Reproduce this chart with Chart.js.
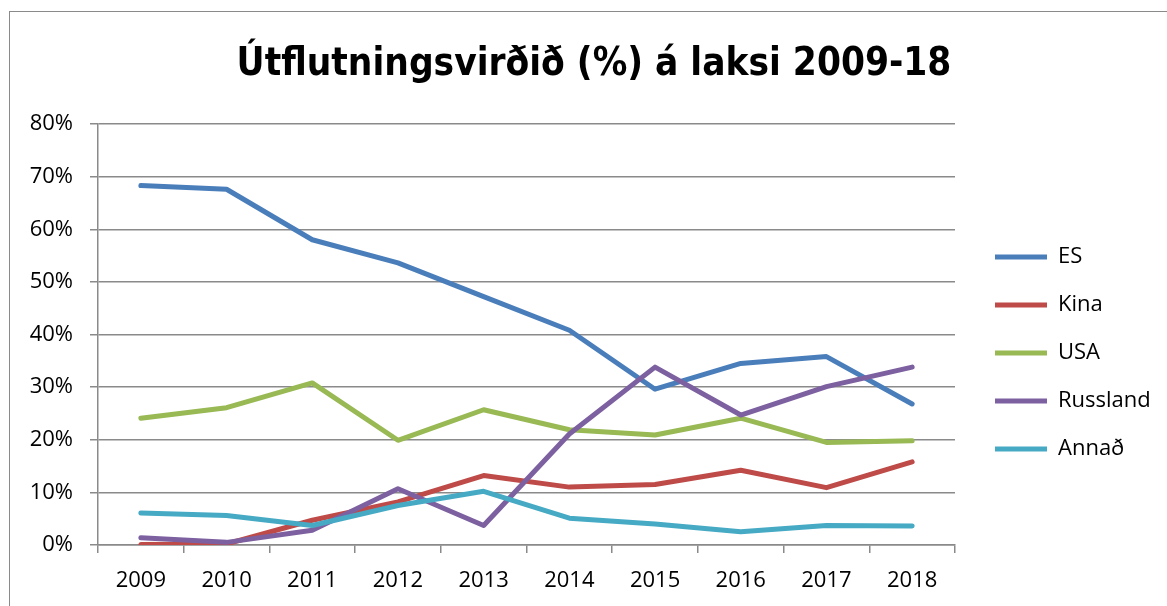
<!DOCTYPE html>
<html>
<head>
<meta charset="utf-8">
<script src="https://cdn.jsdelivr.net/npm/chart.js@4.4.1/dist/chart.umd.min.js"></script>
<style>
  html, body { margin:0; padding:0; background:#ffffff; overflow:hidden; width:1167px; height:606px; }
  #frame { position:absolute; left:9px; top:11px; width:1300px; height:700px;
           border-left:1.5px solid #8a8a8a; border-top:1.5px solid #8a8a8a; }
  #wrap { position:absolute; left:10px; top:12px; }
</style>
</head>
<body>
<div id="frame"></div>
<div id="wrap"><canvas id="c"></canvas></div>
<script>
// ---- data ----
const titleText = 'Útflutningsvirðið (%) á laksi 2009-18';
const years = ['2009','2010','2011','2012','2013','2014','2015','2016','2017','2018'];
const seriesNames = ['ES','Kina','USA','Russland','Annað'];
const es       = [68.3, 67.6, 58.0, 53.6, 47.2, 40.8, 29.6, 34.5, 35.8, 26.8];
const kina     = [0.1, 0.2, 4.7, 8.2, 13.2, 11.0, 11.5, 14.2, 10.9, 15.8];
const usa      = [24.1, 26.1, 30.8, 19.9, 25.7, 21.9, 20.9, 24.1, 19.5, 19.8];
const russland = [1.4, 0.5, 2.8, 10.7, 3.7, 21.1, 33.8, 24.7, 30.1, 33.8];
const annad    = [6.1, 5.6, 3.7, 7.5, 10.2, 5.1, 4.0, 2.5, 3.7, 3.6];
const yMin = 0, yMax = 80, yStep = 10;

// ---- style ----
const colors = ['#4A7EBB', '#BE4B48', '#98B954', '#7D60A0', '#46AAC5'];
const gridColor = '#8a8a8a';
const textFamily = "'Open Sans', 'Liberation Sans', sans-serif";
const titleFamily = "'Liberation Sans Narrow', 'DejaVu Sans Condensed', 'Liberation Sans', sans-serif";

const W = 1168, H = 600;
const canvas = document.getElementById('c');
canvas.width = W; canvas.height = H;
canvas.style.width = W + 'px'; canvas.style.height = H + 'px';

// title size fitted to the reference width
const mctx = canvas.getContext('2d');
mctx.font = 'bold 100px ' + titleFamily;
const tw = mctx.measureText(titleText).width;
const titleSize = 100 * 715 / tw;
const titlePadTop = 53 - 0.6 * titleSize;
const titlePadBottom = 112 - 1.2 * titleSize - titlePadTop;

const plotLeft = 88, plotRight = 945, plotBottom = 533;
const gapRight = 14;

const seriesData = [es, kina, usa, russland, annad];

const blankAxis = (extra) => Object.assign({
  display: true,
  grid: { display: false, drawTicks: false },
  ticks: { display: false },
  border: { display: false }
}, extra);

new Chart(canvas, {
  type: 'line',
  data: {
    labels: years,
    datasets: seriesNames.map((n, i) => ({
      label: n,
      data: seriesData[i],
      yAxisID: 'y',
      borderColor: colors[i],
      backgroundColor: colors[i],
      borderWidth: 5,
      pointRadius: 0,
      pointHoverRadius: 0,
      tension: 0,
      fill: false,
      borderCapStyle: 'round',
      borderJoinStyle: 'round',
      order: seriesNames.length - i
    }))
  },
  options: {
    responsive: false,
    devicePixelRatio: 1,
    animation: false,
    layout: { padding: 0 },
    plugins: {
      tooltip: { enabled: false },
      title: {
        display: true,
        text: titleText,
        color: '#000',
        font: { family: titleFamily, size: titleSize, weight: 'bold' },
        padding: { top: titlePadTop, bottom: titlePadBottom }
      },
      legend: {
        position: 'right',
        maxWidth: 400,
        labels: {
          usePointStyle: true,
          pointStyle: 'line',
          pointStyleWidth: 52,
          padding: 26,
          color: '#000',
          font: { family: textFamily, size: 22 },
          sort: (a, b) => a.datasetIndex - b.datasetIndex
        },
        title: { display: true, text: '', padding: { top: 70, bottom: 0 }, font: { size: 10 } }
      }
    },
    scales: {
      x: {
        type: 'category',
        offset: true,
        grid: { offset: true, drawOnChartArea: false, drawTicks: true, tickLength: 8, color: gridColor, lineWidth: 1.5 },
        border: { display: true, color: gridColor, width: 1.5 },
        ticks: { color: '#000', font: { family: textFamily, size: 22 }, padding: 15, maxRotation: 0, autoSkip: false },
        afterFit: s => { s.height = H - plotBottom; }
      },
      y: {
        position: 'left',
        min: yMin, max: yMax,
        ticks: {
          stepSize: yStep,
          color: '#000',
          font: { family: textFamily, size: 22 },
          padding: 17,
          callback: v => v + '%'
        },
        grid: { color: gridColor, lineWidth: 1.5, tickLength: 8 },
        border: { display: true, color: gridColor, width: 1.5 },
        afterFit: s => { s.width = plotLeft; }
      },
      yGap: blankAxis({ position: 'right', weight: 1, afterFit: s => { s.width = gapRight; } }),
      yOuter: blankAxis({
        position: 'right', weight: 2000,
        afterFit: s => {
          const lw = s.chart.legend ? s.chart.legend.width : 0;
          s.width = Math.max(0, W - plotRight - gapRight - lw);
        }
      })
    }
  }
});
</script>
</body>
</html>
